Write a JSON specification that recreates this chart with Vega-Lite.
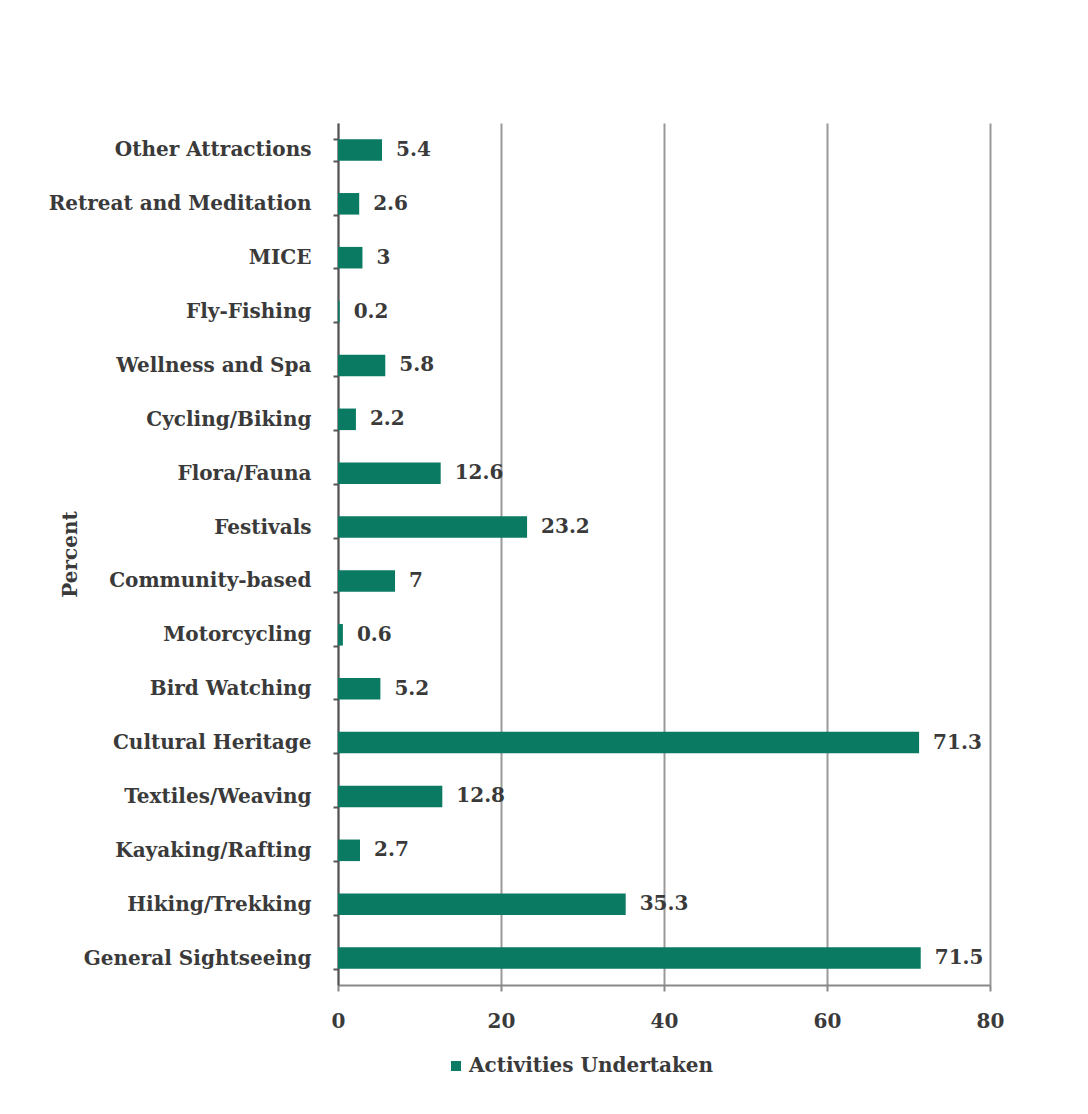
{
  "$schema": "https://vega.github.io/schema/vega-lite/v6.json",
  "autosize": "none",
  "width": 652,
  "height": 862,
  "padding": {"left": 338, "top": 123, "right": 98, "bottom": 129},
  "background": "white",
  "data": {
    "values": [
      {"activity": "Other Attractions", "percent": 5.4, "series": "Activities Undertaken"},
      {"activity": "Retreat and Meditation", "percent": 2.6, "series": "Activities Undertaken"},
      {"activity": "MICE", "percent": 3, "series": "Activities Undertaken"},
      {"activity": "Fly-Fishing", "percent": 0.2, "series": "Activities Undertaken"},
      {"activity": "Wellness and Spa", "percent": 5.8, "series": "Activities Undertaken"},
      {"activity": "Cycling/Biking", "percent": 2.2, "series": "Activities Undertaken"},
      {"activity": "Flora/Fauna", "percent": 12.6, "series": "Activities Undertaken"},
      {"activity": "Festivals", "percent": 23.2, "series": "Activities Undertaken"},
      {"activity": "Community-based", "percent": 7, "series": "Activities Undertaken"},
      {"activity": "Motorcycling", "percent": 0.6, "series": "Activities Undertaken"},
      {"activity": "Bird Watching", "percent": 5.2, "series": "Activities Undertaken"},
      {"activity": "Cultural Heritage", "percent": 71.3, "series": "Activities Undertaken"},
      {"activity": "Textiles/Weaving", "percent": 12.8, "series": "Activities Undertaken"},
      {"activity": "Kayaking/Rafting", "percent": 2.7, "series": "Activities Undertaken"},
      {"activity": "Hiking/Trekking", "percent": 35.3, "series": "Activities Undertaken"},
      {"activity": "General Sightseeing", "percent": 71.5, "series": "Activities Undertaken"}
    ]
  },
  "config": {
    "view": {"stroke": null},
    "font": "DejaVu Serif",
    "axis": {"labelFont": "DejaVu Serif", "titleFont": "DejaVu Serif", "labelColor": "#3a3a3a", "titleColor": "#3a3a3a"}
  },
  "encoding": {
    "y": {
      "field": "activity",
      "type": "nominal",
      "sort": null,
      "scale": {"paddingInner": 0.6, "paddingOuter": 0.3},
      "axis": {
        "title": "Percent",
        "titleFontSize": 20,
        "titleFontWeight": "bold",
        "titleX": -268,
        "titleY": 431,
        "titleAngle": -90,
        "titleAlign": "center",
        "titleBaseline": "middle",
        "labelFontSize": 20,
        "labelFontWeight": "bold",
        "labelLimit": 400,
        "labelPadding": 22,
        "tickSize": 5,
        "tickBand": "extent",
        "tickColor": "#555555",
        "domainColor": "#555555",
        "domainWidth": 2,
        "tickWidth": 2,
        "grid": false
      }
    },
    "x": {
      "field": "percent",
      "type": "quantitative",
      "scale": {"domain": [0, 80], "nice": false},
      "axis": {
        "title": null,
        "values": [0, 20, 40, 60, 80],
        "labelFontSize": 20,
        "labelFontWeight": "bold",
        "labelFlush": false,
        "labelPadding": 20,
        "tickSize": 6,
        "tickWidth": 2,
        "tickColor": "#888888",
        "domainColor": "#888888",
        "domainWidth": 2,
        "grid": true,
        "gridColor": "#999999",
        "gridWidth": 2
      }
    }
  },
  "layer": [
    {
      "mark": {"type": "bar", "color": "#0b7a63"},
      "encoding": {
        "color": {
          "field": "series",
          "type": "nominal",
          "scale": {"range": ["#0b7a63"]},
          "legend": {
            "title": null,
            "orient": "none",
            "legendX": 108,
            "legendY": 933,
            "symbolType": "square",
            "symbolSize": 100,
            "labelFontSize": 20,
            "labelFontWeight": "bold",
            "labelLimit": 400,
            "labelColor": "#3a3a3a",
            "labelFont": "DejaVu Serif",
            "symbolOffset": 0,
            "labelOffset": 3
          }
        }
      }
    },
    {
      "mark": {"type": "text", "align": "left", "baseline": "middle", "dx": 14, "fontSize": 20, "fontWeight": "bold", "color": "#3a3a3a", "font": "DejaVu Serif"},
      "encoding": {
        "text": {"field": "percent", "type": "quantitative"}
      }
    }
  ]
}
